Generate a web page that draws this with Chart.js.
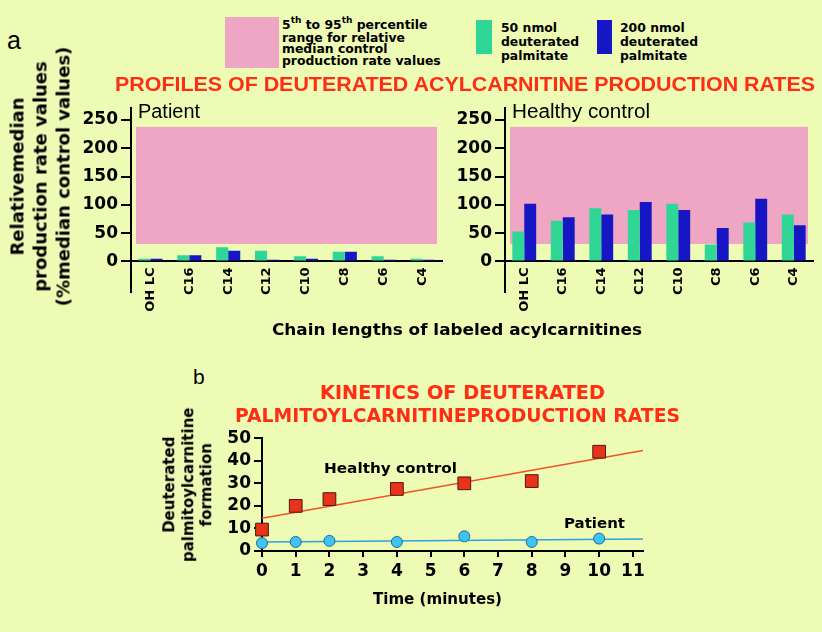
<!DOCTYPE html>
<html>
<head>
<meta charset="utf-8">
<script src="https://cdn.jsdelivr.net/npm/chart.js@4.4.1/dist/chart.umd.min.js"></script>
<style>
  html, body { margin: 0; padding: 0; background: #EEFBB5; }
  #stage { position: relative; width: 822px; height: 632px; overflow: hidden; background: #EEFBB5;
           font-family: "DejaVu Sans", sans-serif; color: #000; }
  canvas { position: absolute; }
  .t { position: absolute; white-space: nowrap; line-height: 1; z-index: 2; }
  .b12 { font: bold 12.4px "DejaVu Sans", sans-serif; }
  .red { color: #FF2D14; }
  .box { position: absolute; }
  .rot { position: absolute; transform: rotate(-90deg); text-align: center; z-index: 2;
         font-weight: bold; white-space: nowrap; }
  sup { font-size: 9px; position: relative; top: -1px; vertical-align: top; line-height: 1; }
</style>
</head>
<body>
<div id="stage">
  <!-- legend -->
  <div class="box" style="left:225px;top:17px;width:54px;height:51px;background:#EEA6C4"></div>
  <div class="t b12" style="left:282px;top:17px">5<sup>th</sup> to 95<sup>th</sup> percentile</div>
  <div class="t b12" style="left:282px;top:29.5px">range for relative</div>
  <div class="t b12" style="left:282px;top:40.5px">median control</div>
  <div class="t b12" style="left:282px;top:53.3px">production rate values</div>

  <div class="box" style="left:476px;top:20px;width:16px;height:34px;background:#2FD696"></div>
  <div class="t b12" style="left:501px;top:19.5px">50 nmol</div>
  <div class="t b12" style="left:501px;top:33.5px">deuterated</div>
  <div class="t b12" style="left:501px;top:47.5px">palmitate</div>

  <div class="box" style="left:597px;top:20px;width:15px;height:34px;background:#1616C4"></div>
  <div class="t b12" style="left:620px;top:19.5px">200 nmol</div>
  <div class="t b12" style="left:620px;top:33.5px">deuterated</div>
  <div class="t b12" style="left:620px;top:47.5px">palmitate</div>

  <div class="t" style="left:7px;top:26px;font:25px 'Liberation Sans',sans-serif">a</div>
  <div class="t red" style="left:115px;top:72.5px;font:bold 19.5px 'Liberation Sans',sans-serif" data-w="700">PROFILES OF DEUTERATED ACYLCARNITINE PRODUCTION RATES</div>

  <div class="rot" style="left:-110.5px;top:141.5px;width:300px;height:69px;line-height:23px;font-size:18px">
    Relativemedian<br>production rate values<br>(%median control values)
  </div>

  <canvas id="patientChart" width="450" height="230" style="left:0;top:95px"></canvas>
  <canvas id="controlChart" width="382" height="230" style="left:440px;top:95px"></canvas>

  <div class="t" style="left:138px;top:100px;font:20px 'Liberation Sans',sans-serif" data-w="62">Patient</div>
  <div class="t" style="left:512px;top:100px;font:20px 'Liberation Sans',sans-serif" data-w="138">Healthy control</div>

  <div class="t" style="left:272px;top:319.5px;font:bold 16px 'DejaVu Sans',sans-serif" data-w="370">Chain lengths of labeled acylcarnitines</div>

  <div class="t" style="left:193px;top:365px;font:21px 'Liberation Sans',sans-serif">b</div>
  <div class="t red" style="left:320px;top:381px;font:bold 19px 'DejaVu Sans',sans-serif" data-w="285">KINETICS OF DEUTERATED</div>
  <div class="t red" style="left:235px;top:404px;font:bold 19px 'DejaVu Sans',sans-serif" data-w="445">PALMITOYLCARNITINEPRODUCTION RATES</div>

  <div class="rot" style="left:108px;top:457.25px;width:160px;height:55.5px;line-height:18.5px;font-size:15px">
    Deuterated<br>palmitoylcarnitine<br>formation
  </div>

  <canvas id="kineticsChart" width="460" height="190" style="left:200px;top:425px"></canvas>

  <div class="t" style="left:324px;top:460px;font:bold 14px 'DejaVu Sans',sans-serif" data-w="133">Healthy control</div>
  <div class="t" style="left:564px;top:515px;font:bold 14px 'DejaVu Sans',sans-serif" data-w="61">Patient</div>
  <div class="t" style="left:373px;top:588.5px;font:bold 16px 'DejaVu Sans',sans-serif" data-w="129">Time (minutes)</div>
</div>

<script>
// panel a: relative production rates (% of median control)
const categories = ["OH LC", "C16", "C14", "C12", "C10", "C8", "C6", "C4"];
const patient50 = [5, 11, 25, 19, 9, 17, 9, 5];
const patient200 = [5, 11, 19, 3, 5, 17, 3, 3];
const control50 = [53, 72, 94, 91, 102, 30, 69, 83];
const control200 = [102, 78, 83, 105, 91, 59, 111, 64];
const percentileBand = [31, 238];
const rateTicks = [0, 50, 100, 150, 200, 250];

// panel b: kinetics
const timeMin = [0, 1, 2, 4, 6, 8, 10];
const controlFormation = [9.5, 20, 23, 27.5, 30, 31, 44];
const patientFormation = [3.5, 4, 4.5, 4, 6.5, 4, 5.5];
const controlFit = [[0, 14.5], [11.3, 44.5]];
const patientFit = [[0, 4], [11.3, 5.3]];
const timeTicks = [0, 1, 2, 3, 4, 5, 6, 7, 8, 9, 10, 11];
const formationTicks = [0, 10, 20, 30, 40, 50];

const GREEN = "#2FD696";
const BLUE = "#1616C4";
const PINK = "#EEA6C4";

Chart.defaults.font.family = "'DejaVu Sans', sans-serif";
Chart.defaults.color = "#000";

// pink 5th-95th percentile band behind the bars
const bandPlugin = {
  id: "band",
  beforeDatasetsDraw(chart) {
    const { ctx, chartArea, scales } = chart;
    const top = scales.y.getPixelForValue(percentileBand[1]);
    const bottom = scales.y.getPixelForValue(percentileBand[0]);
    ctx.save();
    ctx.fillStyle = PINK;
    ctx.fillRect(chartArea.left + 5, top, chartArea.right - chartArea.left - 10, bottom - top);
    ctx.restore();
  }
};

function barChart(id, a, b, yWidth, padRight) {
  return new Chart(document.getElementById(id), {
    type: "bar",
    data: {
      labels: categories,
      datasets: [
        { label: "50 nmol deuterated palmitate", data: a, backgroundColor: GREEN },
        { label: "200 nmol deuterated palmitate", data: b, backgroundColor: BLUE }
      ]
    },
    options: {
      responsive: false,
      animation: false,
      devicePixelRatio: 1,
      layout: { padding: { top: 10, right: padRight, bottom: 33, left: 0 } },
      plugins: { legend: { display: false }, tooltip: { enabled: false } },
      datasets: { bar: { categoryPercentage: 0.62, barPercentage: 1 } },
      scales: {
        x: {
          position: { y: 0 },
          grid: { drawOnChartArea: false, drawTicks: false },
          border: { color: "#000", width: 2 },
          ticks: { color: "#000", font: { weight: "bold", size: 13 }, minRotation: 90, maxRotation: 90, padding: 6, autoSkip: false }
        },
        y: {
          min: -54,
          max: 271,
          afterBuildTicks: s => { s.ticks = rateTicks.map(v => ({ value: v })); },
          afterFit: s => { s.width = yWidth; },
          grid: { drawOnChartArea: false, tickLength: 10, color: "#000", lineWidth: 2 },
          border: { color: "#000", width: 2 },
          ticks: { color: "#000", font: { weight: "bold", size: 17 }, padding: 3, autoSkip: false }
        }
      }
    },
    plugins: [bandPlugin]
  });
}

barChart("patientChart", patient50, patient200, 131, 8);
barChart("controlChart", control50, control200, 65, 9);

const xy = (xs, ys) => xs.map((x, i) => ({ x: x, y: ys[i] }));
const pairs = p => p.map(([x, y]) => ({ x: x, y: y }));

new Chart(document.getElementById("kineticsChart"), {
  type: "line",
  data: {
    datasets: [
      { label: "Healthy control", data: xy(timeMin, controlFormation), showLine: false,
        pointStyle: "rect", pointRadius: 9, backgroundColor: "#E8321A", borderColor: "#4A1A0A", borderWidth: 1 },
      { label: "Patient", data: xy(timeMin, patientFormation), showLine: false,
        pointStyle: "circle", pointRadius: 5.5, backgroundColor: "#3EC3F2", borderColor: "#1B6D95", borderWidth: 1 },
      { label: "control fit", data: pairs(controlFit), borderColor: "#F0532A", borderWidth: 1.5, pointRadius: 0 },
      { label: "patient fit", data: pairs(patientFit), borderColor: "#2E9FE6", borderWidth: 1.5, pointRadius: 0 }
    ]
  },
  options: {
    responsive: false,
    animation: false,
    devicePixelRatio: 1,
    clip: false,
    layout: { padding: { top: 10, right: 17, bottom: 24, left: 0 } },
    plugins: { legend: { display: false }, tooltip: { enabled: false } },
    scales: {
      x: {
        type: "linear",
        min: 0,
        max: 11.3,
        afterBuildTicks: s => { s.ticks = timeTicks.map(v => ({ value: v })); },
        afterFit: s => { s.height = 40; },
        grid: { drawOnChartArea: false, tickLength: 6, color: "#000", lineWidth: 2 },
        border: { color: "#000", width: 2 },
        ticks: { color: "#000", font: { weight: "bold", size: 17 }, padding: 4, autoSkip: false }
      },
      y: {
        min: 0,
        max: 50,
        afterBuildTicks: s => { s.ticks = formationTicks.map(v => ({ value: v })); },
        afterFit: s => { s.width = 62; },
        grid: { drawOnChartArea: false, tickLength: 8, color: "#000", lineWidth: 2 },
        border: { color: "#000", width: 2 },
        ticks: { color: "#000", font: { weight: "bold", size: 17 }, padding: 3, autoSkip: false }
      }
    }
  }
});

// stretch text runs to the widths they take in the figure
document.querySelectorAll("[data-w]").forEach(el => {
  const w = el.getBoundingClientRect().width;
  el.style.transformOrigin = "left center";
  el.style.transform = "scaleX(" + (el.dataset.w / w) + ")";
});
</script>
</body>
</html>
